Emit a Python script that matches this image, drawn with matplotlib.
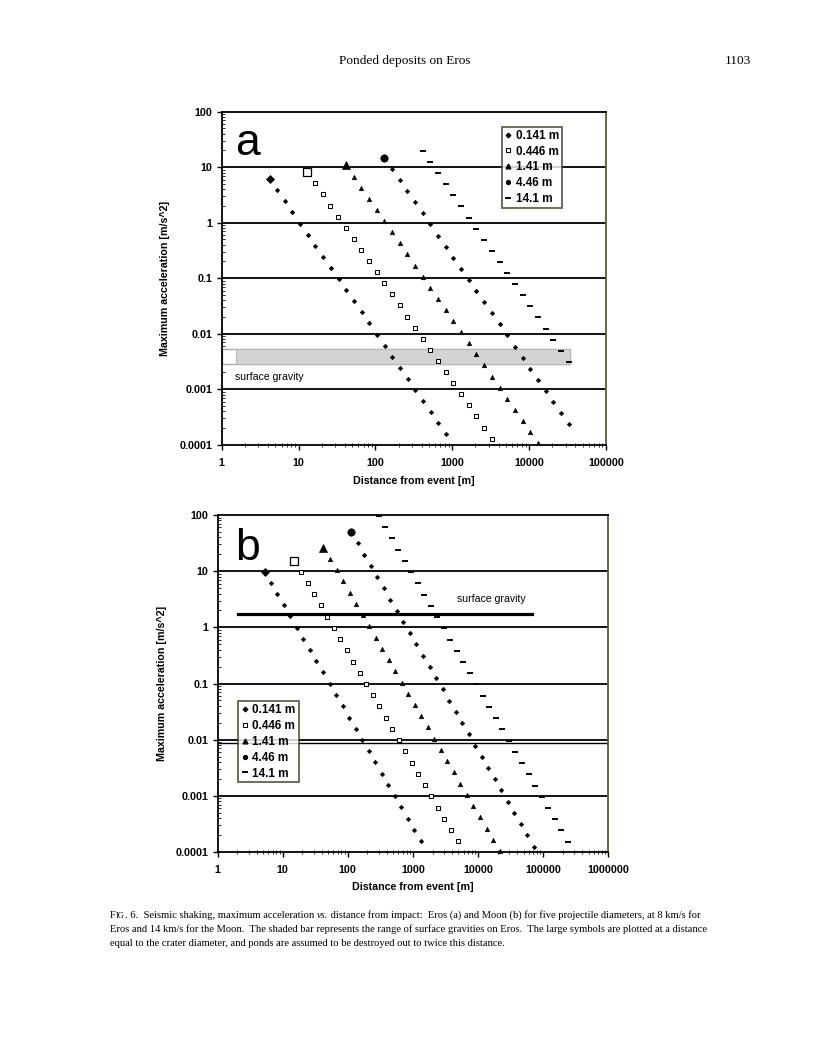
import matplotlib
matplotlib.use('Agg')
import matplotlib.pyplot as plt
from matplotlib.ticker import FixedLocator, FixedFormatter, LogLocator, NullFormatter
from matplotlib.patches import Rectangle
from matplotlib.lines import Line2D

SANS = ['Liberation Sans', 'DejaVu Sans']
SERIF = ['Liberation Serif', 'DejaVu Serif']
plt.rcParams['font.family'] = SANS
plt.rcParams['font.weight'] = 'bold'

# ---------------- data ----------------
sizes = ["0.141 m", "0.446 m", "1.41 m", "4.46 m", "14.1 m"]

# Panel a: Eros
eros_x_s1 = [5.25, 6.61, 8.32, 10.5, 13.2, 16.6, 20.9, 26.3, 33.1, 41.7, 52.5, 66.1, 83.2, 105, 132, 166, 209, 263, 331, 417, 525, 661, 832]
eros_y_s1 = [3.84, 2.42, 1.53, 0.964, 0.608, 0.384, 0.242, 0.153, 0.0964, 0.0608, 0.0384, 0.0242, 0.0153, 0.00964, 0.00608, 0.00384, 0.00242, 0.00153, 0.000964, 0.000608, 0.000384, 0.000242, 0.000153]
eros_x_s2 = [16.4, 20.7, 26.0, 32.7, 41.2, 51.9, 65.3, 82.2, 104, 130, 164, 207, 260, 327, 412, 519, 653, 822, 1035, 1303, 1641, 2065, 2600, 3273]
eros_y_s2 = [5.13, 3.24, 2.04, 1.29, 0.813, 0.513, 0.324, 0.204, 0.129, 0.0813, 0.0513, 0.0324, 0.0204, 0.0129, 0.00813, 0.00513, 0.00324, 0.00204, 0.00129, 0.000813, 0.000513, 0.000324, 0.000204, 0.000129]
eros_x_s3 = [51.9, 65.3, 82.2, 104, 130, 164, 207, 260, 327, 412, 519, 653, 822, 1035, 1303, 1641, 2065, 2600, 3273, 4121, 5188, 6531, 8222, 10350, 13030]
eros_y_s3 = [6.75, 4.26, 2.69, 1.69, 1.07, 0.675, 0.426, 0.269, 0.169, 0.107, 0.0675, 0.0426, 0.0269, 0.0169, 0.0107, 0.00675, 0.00426, 0.00269, 0.00169, 0.00107, 0.000675, 0.000426, 0.000269, 0.000169, 0.000107]
eros_x_s4 = [164, 207, 260, 327, 412, 519, 653, 822, 1035, 1303, 1641, 2065, 2600, 3273, 4121, 5188, 6531, 8222, 10350, 13030, 16410, 20650, 26000, 32730]
eros_y_s4 = [9.29, 5.86, 3.70, 2.33, 1.47, 0.929, 0.586, 0.370, 0.233, 0.147, 0.0929, 0.0586, 0.0370, 0.0233, 0.0147, 0.00929, 0.00586, 0.00370, 0.00233, 0.00147, 0.000929, 0.000586, 0.000370, 0.000233]
eros_x_s5 = [519, 653, 822, 1035, 1303, 1641, 2065, 2600, 3273, 4121, 5188, 6531, 8222, 10350, 13030, 16410, 20650, 26000, 32730]
eros_y_s5 = [12.4, 7.83, 4.94, 3.12, 1.97, 1.24, 0.783, 0.494, 0.312, 0.197, 0.124, 0.0783, 0.0494, 0.0312, 0.0197, 0.0124, 0.00783, 0.00494, 0.00312]
eros_large_x = [4.23, 13.0, 41.8, 130, 412]
eros_large_y = [6.05, 8.20, 11.0, 14.8, 19.8]
eros_gravity_range = [0.0029, 0.0052]
eros_band_x = [1.0, 1.55, 34000]

# Panel b: Moon
moon_x_s1 = [6.61, 8.32, 10.5, 13.2, 16.6, 20.9, 26.3, 33.1, 41.7, 52.5, 66.1, 83.2, 105, 132, 166, 209, 263, 331, 417, 525, 661, 832, 1047, 1318]
moon_y_s1 = [6.24, 3.94, 2.48, 1.57, 0.989, 0.624, 0.394, 0.248, 0.157, 0.0989, 0.0624, 0.0394, 0.0248, 0.0157, 0.00989, 0.00624, 0.00394, 0.00248, 0.00157, 0.000989, 0.000624, 0.000394, 0.000248, 0.000157]
moon_x_s2 = [19.3, 24.3, 30.5, 38.5, 48.4, 61.0, 76.7, 96.6, 122, 153, 193, 243, 305, 385, 484, 610, 767, 966, 1216, 1531, 1928, 2427, 3055, 3846, 4842]
moon_y_s2 = [9.79, 6.18, 3.90, 2.46, 1.55, 0.979, 0.618, 0.390, 0.246, 0.155, 0.0979, 0.0618, 0.0390, 0.0246, 0.0155, 0.00979, 0.00618, 0.00390, 0.00246, 0.00155, 0.000979, 0.000618, 0.000390, 0.000246, 0.000155]
moon_x_s3 = [53.7, 67.6, 85.1, 107, 135, 170, 214, 269, 339, 427, 537, 676, 851, 1072, 1349, 1698, 2138, 2692, 3388, 4266, 5370, 6761, 8511, 10720, 13490, 16980, 21380]
moon_y_s3 = [16.5, 10.4, 6.56, 4.14, 2.61, 1.65, 1.04, 0.656, 0.414, 0.261, 0.165, 0.104, 0.0656, 0.0414, 0.0261, 0.0165, 0.0104, 0.00656, 0.00414, 0.00261, 0.00165, 0.00104, 0.000656, 0.000414, 0.000261, 0.000165, 0.000104]
moon_x_s4 = [143, 180, 226, 285, 359, 452, 569, 716, 902, 1135, 1429, 1799, 2265, 2851, 3589, 4519, 5689, 7161, 9016, 11350, 14290, 17990, 22650, 28510, 35890, 45190, 56890, 71610]
moon_y_s4 = [31.3, 19.8, 12.5, 7.87, 4.97, 3.13, 1.98, 1.25, 0.787, 0.497, 0.313, 0.198, 0.125, 0.0787, 0.0497, 0.0313, 0.0198, 0.0125, 0.00787, 0.00497, 0.00313, 0.00198, 0.00125, 0.000787, 0.000497, 0.000313, 0.000198, 0.000125]
moon_x_s5 = [299, 376, 473, 596, 750, 944, 1189, 1496, 1884, 2371, 2985, 3758, 4732, 5957, 7499, 9441, 11890, 14960, 18840, 23710, 29850, 37580, 47320, 59570, 74990, 94410, 118900, 149600, 188400, 237100]
moon_y_s5 = [96.2, 60.7, 38.3, 24.2, 15.2, 9.62, 6.07, 3.83, 2.42, 1.52, 0.962, 0.607, 0.383, 0.242, 0.152, 0.0962, 0.0607, 0.0383, 0.0242, 0.0152, 0.00962, 0.00607, 0.00383, 0.00242, 0.00152, 0.000962, 0.000607, 0.000383, 0.000242, 0.000152]
moon_large_x = [5.28, 14.9, 41.8, 112]
moon_large_y = [9.79, 15.4, 26.2, 50.5]
moon_gravity = 1.7
moon_gravity_x = [2.05, 68000]
moon_extra_line = 0.0089

y_ticks = [0.0001, 0.001, 0.01, 0.1, 1, 10, 100]
y_tick_labels = ["0.0001", "0.001", "0.01", "0.1", "1", "10", "100"]
xa_ticks = [1, 10, 100, 1000, 10000, 100000]
xa_tick_labels = ["1", "10", "100", "1000", "10000", "100000"]
xb_ticks = [1, 10, 100, 1000, 10000, 100000, 1000000]
xb_tick_labels = ["1", "10", "100", "1000", "10000", "100000", "1000000"]

# ---------------- figure ----------------
W, H = 816, 1055
fig = plt.figure(figsize=(W / 100, H / 100), dpi=100)
fig.patch.set_facecolor('white')

def fx(px):
    return px / W

def fy(py):
    return 1 - py / H

ax_a = fig.add_axes([fx(221.7), fy(444.7), (606 - 221.7) / W, 333 / H])
ax_b = fig.add_axes([fx(217.5), fy(852), (608.3 - 217.5) / W, 337 / H])

small_styles = [
    dict(marker='D', ms=2.3, mfc='k', mec='k', mew=0.4),
    dict(marker='s', ms=2.9, mfc='white', mec='k', mew=0.75),
    dict(marker='^', ms=3.3, mfc='k', mec='k', mew=0.4),
    dict(marker='D', ms=2.3, mfc='k', mec='k', mew=0.4),
    dict(marker='_', ms=4.6, mec='k', mew=1.4),
]
large_styles = [
    dict(marker='D', ms=4.4, mfc='k', mec='k', mew=0.5),
    dict(marker='s', ms=6.0, mfc='white', mec='k', mew=0.9),
    dict(marker='^', ms=6.2, mfc='k', mec='k', mew=0.5),
    dict(marker='o', ms=5.3, mfc='k', mec='k', mew=0.5),
    dict(marker='_', ms=4.6, mec='k', mew=1.4),
]
legend_styles = [
    dict(marker='D', ms=2.3, mfc='k', mec='k'),
    dict(marker='s', ms=3.0, mfc='white', mec='k', mew=0.75),
    dict(marker='^', ms=3.4, mfc='k', mec='k'),
    dict(marker='o', ms=2.8, mfc='k', mec='k'),
    dict(marker='_', ms=4.6, mec='k', mew=1.4),
]


def style_axes(ax, xmax, xt, xtl):
    ax.set_xscale('log')
    ax.set_yscale('log')
    ax.set_xlim(1, xmax)
    ax.set_ylim(1e-4, 100)
    ax.set_facecolor('white')
    for v in [1e-3, 1e-2, 1e-1, 1, 10]:
        ax.axhline(v, color='k', lw=1.3, zorder=1)
    ax.xaxis.set_major_locator(FixedLocator(xt))
    ax.xaxis.set_major_formatter(FixedFormatter(xtl))
    ax.yaxis.set_major_locator(FixedLocator(y_ticks))
    ax.yaxis.set_major_formatter(FixedFormatter(y_tick_labels))
    ax.xaxis.set_minor_locator(LogLocator(base=10, subs=range(2, 10), numticks=20))
    ax.yaxis.set_minor_locator(LogLocator(base=10, subs=range(2, 10), numticks=20))
    ax.xaxis.set_minor_formatter(NullFormatter())
    ax.yaxis.set_minor_formatter(NullFormatter())
    ax.tick_params(which='major', direction='out', length=3.5, width=1.0, labelsize=7.7)
    ax.tick_params(axis='x', which='major', pad=6)
    ax.tick_params(axis='y', which='major', pad=3)
    ax.tick_params(which='minor', direction='in', length=2.2, width=0.6)
    ax.tick_params(axis='x', which='minor', direction='inout', length=3.0)
    for s in ['left', 'bottom', 'top']:
        ax.spines[s].set_linewidth(1.3)
        ax.spines[s].set_color('k')
    ax.spines['right'].set_linewidth(1.3)
    ax.spines['right'].set_color('#5e5c30')


def plot_series(ax, xs_list, ys_list, lx, ly):
    for i, (xs, ys) in enumerate(zip(xs_list, ys_list)):
        ax.plot(xs, ys, ls='none', zorder=4, clip_on=False, **small_styles[i])
    for i, (x, y) in enumerate(zip(lx, ly)):
        ax.plot([x], [y], ls='none', zorder=4, clip_on=False, **large_styles[i])


# ---- panel a ----
style_axes(ax_a, 100000, xa_ticks, xa_tick_labels)
ax_a.add_patch(Rectangle((eros_band_x[0], eros_gravity_range[0]),
                         eros_band_x[2] - eros_band_x[0],
                         eros_gravity_range[1] - eros_gravity_range[0],
                         facecolor='white', edgecolor='#a8a8a8', lw=1.0, zorder=2))
ax_a.add_patch(Rectangle((eros_band_x[1], eros_gravity_range[0]),
                         eros_band_x[2] - eros_band_x[1],
                         eros_gravity_range[1] - eros_gravity_range[0],
                         facecolor='#d3d3d3', edgecolor='#b8b8b8', lw=0.8, zorder=2))
plot_series(ax_a,
            [eros_x_s1, eros_x_s2, eros_x_s3, eros_x_s4, eros_x_s5],
            [eros_y_s1, eros_y_s2, eros_y_s3, eros_y_s4, eros_y_s5],
            eros_large_x, eros_large_y)
ax_a.text(1.49, 0.00166, "surface gravity", fontsize=7.6, fontweight='normal',
          ha='left', va='center', zorder=5)
ax_a.set_ylabel("Maximum acceleration [m/s^2]", fontsize=7.7, fontweight='bold')
ax_a.yaxis.set_label_coords(-0.135, 0.5)
ax_a.set_xlabel("Distance from event [m]", fontsize=7.7, fontweight='bold')
ax_a.xaxis.set_label_coords(0.5, -0.093)

handles = [Line2D([], [], ls='none', **st) for st in legend_styles]
leg_a = fig.legend(handles, sizes, loc='upper right', bbox_to_anchor=(fx(562.3), fy(126.7)),
                   frameon=True, fancybox=False, borderpad=0.25,
                   labelspacing=0.33, handlelength=0.6, handletextpad=0.35,
                   borderaxespad=0.0, prop={'weight': 'bold', 'size': 8.5})
leg_a.get_frame().set_edgecolor('#3b3a1c')
leg_a.get_frame().set_linewidth(1.3)

fig.text(fx(235), fy(155), "a", fontsize=32, fontweight='normal', ha='left', va='baseline')

# ---- panel b ----
style_axes(ax_b, 1000000, xb_ticks, xb_tick_labels)
ax_b.axhline(moon_extra_line, color='k', lw=1.0, zorder=1)
ax_b.plot(moon_gravity_x, [moon_gravity, moon_gravity], color='k', lw=2.3, zorder=2)
plot_series(ax_b,
            [moon_x_s1, moon_x_s2, moon_x_s3, moon_x_s4, moon_x_s5],
            [moon_y_s1, moon_y_s2, moon_y_s3, moon_y_s4, moon_y_s5],
            moon_large_x, moon_large_y)
ax_b.text(4720, 3.2, "surface gravity", fontsize=7.6, fontweight='normal',
          ha='left', va='center', zorder=5)
ax_b.set_ylabel("Maximum acceleration [m/s^2]", fontsize=7.7, fontweight='bold')
ax_b.yaxis.set_label_coords(-0.13, 0.5)
ax_b.set_xlabel("Distance from event [m]", fontsize=7.7, fontweight='bold')
ax_b.xaxis.set_label_coords(0.5, -0.088)

leg_b = fig.legend(handles, sizes, loc='upper left', bbox_to_anchor=(fx(238.3), fy(701)),
                   frameon=True, fancybox=False, borderpad=0.25,
                   labelspacing=0.33, handlelength=0.6, handletextpad=0.35,
                   borderaxespad=0.0, prop={'weight': 'bold', 'size': 8.5})
leg_b.get_frame().set_edgecolor('#3b3a1c')
leg_b.get_frame().set_linewidth(1.3)

fig.text(fx(235), fy(560), "b", fontsize=32, fontweight='normal', ha='left', va='baseline')

# ---- header ----
fig.text(fx(405), fy(64), "Ponded deposits on Eros", family=SERIF, fontweight='normal',
         fontsize=9.6, ha='center', va='baseline')
fig.text(fx(751), fy(64), "1103", family=SERIF, fontweight='normal',
         fontsize=9.6, ha='right', va='baseline')

# ---- caption ----
renderer = fig.canvas.get_renderer()
CAP = 7.58


def draw_runs(x_px, y_px, runs):
    x = x_px
    for text, kw in runs:
        props = dict(family=SERIF, fontweight='normal', fontsize=CAP)
        props.update(kw)
        t = fig.text(fx(x), fy(y_px), text, ha='left', va='baseline', **props)
        bb = t.get_window_extent(renderer=renderer)
        x += bb.width


draw_runs(110, 918, [
    ("F", {}), ("IG", dict(fontsize=CAP * 0.78)),
    (". 6.  Seismic shaking, maximum acceleration ", {}),
    ("vs.", dict(style='italic')),
    (" distance from impact:  Eros (a) and Moon (b) for five projectile diameters, at 8 km/s for", {}),
])
draw_runs(110, 932, [
    ("Eros and 14 km/s for the Moon.  The shaded bar represents the range of surface gravities on Eros.  The large symbols are plotted at a distance", {}),
])
draw_runs(110, 946, [
    ("equal to the crater diameter, and ponds are assumed to be destroyed out to twice this distance.", {}),
])

fig.savefig("out.png", dpi=100, facecolor='white')
